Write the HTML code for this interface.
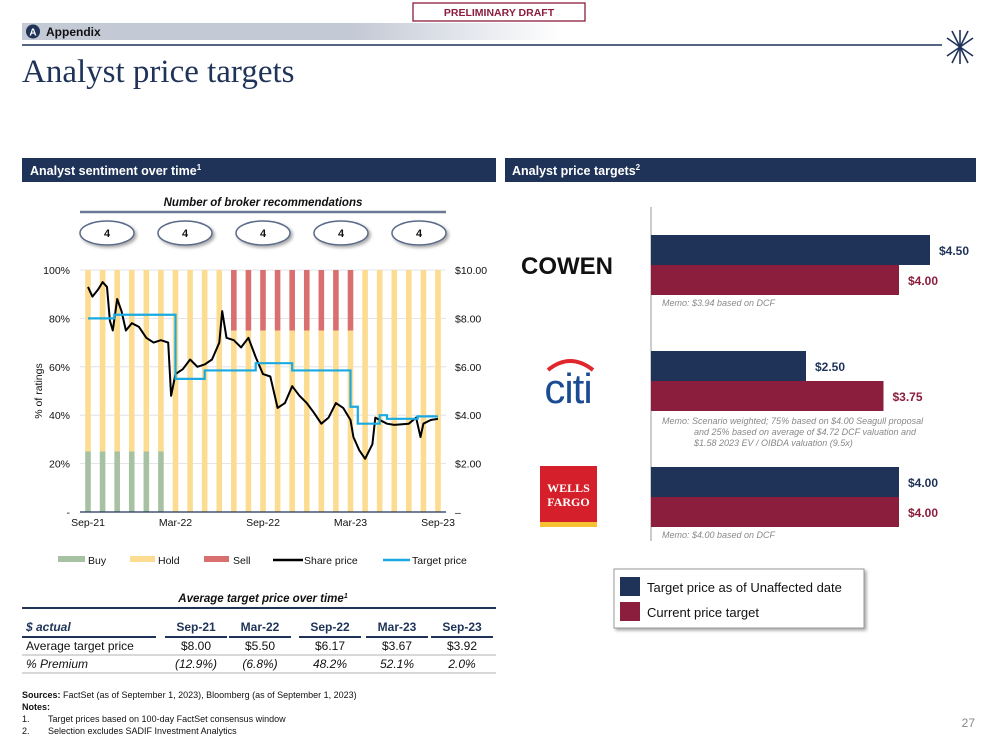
<!DOCTYPE html>
<html><head><meta charset="utf-8"><style>
body{margin:0;background:#fff}
svg{display:block;font-family:"Liberation Sans",Arial,sans-serif}
</style></head><body>
<svg id="s" width="999" height="750" viewBox="0 0 999 750">
<defs>
<linearGradient id="band" x1="0" x2="1"><stop offset="0" stop-color="#c3c9d5"/><stop offset="0.55" stop-color="#c3c9d5"/><stop offset="0.9" stop-color="#fff"/></linearGradient>
<filter id="sh" x="-20%" y="-30%" width="150%" height="180%"><feDropShadow dx="2" dy="2" stdDeviation="1.5" flood-color="#000" flood-opacity="0.35"/></filter>
</defs>
<rect x="413" y="3" width="172" height="18" fill="#fff" stroke="#8b1d3d" stroke-width="1.3"/>
<text x="499" y="16" text-anchor="middle" font-size="10.5" font-weight="bold" fill="#8b1d3d">PRELIMINARY DRAFT</text>
<rect x="22" y="23" width="600" height="17" fill="url(#band)"/>
<circle cx="33" cy="31.5" r="7" fill="#1f3358"/>
<text x="33" y="35.5" text-anchor="middle" font-size="10" font-weight="bold" fill="#fff">A</text>
<text x="46" y="36" font-size="12" font-weight="bold" fill="#111">Appendix</text>
<line x1="22" y1="45" x2="942" y2="45" stroke="#1f3358" stroke-width="1.5"/>
<g stroke="#1f3358" stroke-width="1.6">
<line x1="960" y1="30" x2="960" y2="64"/><line x1="952" y1="31" x2="968" y2="63"/><line x1="968" y1="31" x2="952" y2="63"/><line x1="947" y1="38" x2="973" y2="56"/><line x1="973" y1="38" x2="947" y2="56"/>
</g>
<text x="22" y="82" font-family="Liberation Serif,serif" font-size="33" fill="#1f3358">Analyst price targets</text>
<rect x="22" y="158" width="474" height="24" fill="#1f3358"/>
<text x="30" y="175" font-size="12.5" font-weight="bold" fill="#fff">Analyst sentiment over time<tspan font-size="8" dy="-5">1</tspan></text>
<rect x="505" y="158" width="471" height="24" fill="#1f3358"/>
<text x="512" y="175" font-size="12.5" font-weight="bold" fill="#fff">Analyst price targets<tspan font-size="8" dy="-5">2</tspan></text>
<text x="263" y="206" text-anchor="middle" font-size="11.5" font-weight="bold" font-style="italic" fill="#111">Number of broker recommendations</text>
<line x1="80" y1="212" x2="446" y2="212" stroke="#6a7a94" stroke-width="2.5"/>
<g id="ovals"></g>
<g id="chart"></g>
<g id="legend" font-size="10.5" fill="#111">
<rect x="58" y="556" width="27" height="6" fill="#a7c1a3"/><text x="88" y="564">Buy</text>
<rect x="130" y="556" width="25" height="6" fill="#fcdc91"/><text x="158" y="564">Hold</text>
<rect x="204" y="556" width="25" height="6" fill="#d9706f"/><text x="233" y="564">Sell</text>
<line x1="273" y1="560" x2="303" y2="560" stroke="#000" stroke-width="2.5"/><text x="304" y="564">Share price</text>
<line x1="383" y1="560" x2="410" y2="560" stroke="#1aa9e0" stroke-width="2.5"/><text x="412" y="564">Target price</text>
</g>
<g font-size="12" fill="#111">
<text x="263" y="602" text-anchor="middle" font-size="11.5" font-weight="bold" font-style="italic">Average target price over time<tspan font-size="7" dy="-4">1</tspan></text>
<line x1="22" y1="608" x2="496" y2="608" stroke="#1f3358" stroke-width="2"/>
<g id="tbl"></g>
</g>
<g font-size="9" fill="#111">
<text x="22" y="698"><tspan font-weight="bold">Sources:</tspan> FactSet (as of September 1, 2023), Bloomberg (as of September 1, 2023)</text>
<text x="22" y="710" font-weight="bold">Notes:</text>
<text x="22" y="722">1.</text><text x="48" y="722">Target prices based on 100-day FactSet consensus window</text>
<text x="22" y="734">2.</text><text x="48" y="734">Selection excludes SADIF Investment Analytics</text>
</g>
<text x="975" y="727" text-anchor="end" font-size="12" fill="#888">27</text>
<line x1="651" y1="207" x2="651" y2="541" stroke="#aaa" stroke-width="1.2"/>
<text x="567" y="274" text-anchor="middle" font-size="24" font-weight="bold" fill="#111">COWEN</text>
<g>
<path d="M548 370 Q570 352 593 370" fill="none" stroke="#e0262c" stroke-width="4"/>
<text x="568" y="403" text-anchor="middle" font-size="42" fill="#1b4b93" letter-spacing="-1">citi</text>
</g>
<g>
<rect x="540" y="466" width="57" height="58" fill="#d5202b"/><rect x="540" y="522" width="57" height="5" fill="#f6c233"/>
<text x="568.5" y="492" text-anchor="middle" font-family="Liberation Serif,serif" font-weight="bold" font-size="12" fill="#fff">WELLS</text>
<text x="568.5" y="506" text-anchor="middle" font-family="Liberation Serif,serif" font-weight="bold" font-size="12" fill="#fff">FARGO</text>
</g>
<g id="bars2"></g>
<g font-size="9" font-style="italic" fill="#888">
<text x="662" y="306">Memo: $3.94 based on DCF</text>
<text x="662" y="424">Memo: Scenario weighted; 75% based on $4.00 Seagull proposal</text>
<text x="694" y="435">and 25% based on average of $4.72 DCF valuation and</text>
<text x="694" y="446">$1.58 2023 EV / OIBDA valuation (9.5x)</text>
<text x="662" y="538">Memo: $4.00 based on DCF</text>
</g>
<g>
<rect x="614" y="569" width="250" height="59" fill="#fff" stroke="#999" filter="url(#sh)"/>
<rect x="620" y="577" width="20" height="19" fill="#1f3358"/><text x="647" y="592" font-size="13" fill="#111">Target price as of Unaffected date</text>
<rect x="620" y="602" width="20" height="19" fill="#8b1d3d"/><text x="647" y="617" font-size="13" fill="#111">Current price target</text>
</g>
</svg>
<script>
const NS="http://www.w3.org/2000/svg";
function mk(p,t,a){const e=document.createElementNS(NS,t);for(const k in a)e.setAttribute(k,a[k]);p.appendChild(e);return e;}
// ---- data ----
const brokerCounts=[4,4,4,4,4];
const buyPct=[25,25,25,25,25,25,0,0,0,0,0,0,0,0,0,0,0,0,0,0,0,0,0,0,0];
const sellPct=[0,0,0,0,0,0,0,0,0,0,25,25,25,25,25,25,25,25,25,0,0,0,0,0,0];
const priceMonths=[0,0.3,0.7,1,1.3,1.5,1.7,2,2.3,2.6,3,3.5,4,4.5,5,5.5,5.7,6,6.5,7,7.5,8,8.5,9,9.2,9.5,10,10.5,11,11.5,12,12.5,13,13.5,14,14.5,15,15.5,16,16.5,17,17.5,18,18.2,18.6,19,19.5,19.7,20,20.5,21,22,22.5,22.8,23,23.5,24];
const priceVals=[9.3,8.9,9.2,9.5,9.3,7.9,7.5,8.8,8.3,7.5,7.8,7.65,7.2,7.0,7.1,7.0,4.8,5.7,5.9,6.3,6.0,6.1,6.3,7.0,8.3,7.2,7.1,6.8,7.2,6.4,5.7,5.6,4.3,4.5,5.2,4.8,4.5,4.1,3.65,3.9,4.5,4.3,3.8,3.1,2.55,2.2,2.8,3.9,3.8,3.65,3.6,3.65,3.9,3.1,3.65,3.8,3.85];
const targetMonths=[0,1.8,6,8,11.5,14,18,18.5,20,20.5,22.6,24];
const targetVals=[8.0,8.15,5.5,5.85,6.15,5.85,4.35,3.65,4.0,3.85,3.95];
const leftTicks=["-","20%","40%","60%","80%","100%"];
const rightTicks=["–","$2.00","$4.00","$6.00","$8.00","$10.00"];
const xLabels=["Sep-21","Mar-22","Sep-22","Mar-23","Sep-23"];
const xLabelMonths=[0,6,12,18,24];
const tableCols=["Sep-21","Mar-22","Sep-22","Mar-23","Sep-23"];
const avgTarget=["$8.00","$5.50","$6.17","$3.67","$3.92"];
const premium=["(12.9%)","(6.8%)","48.2%","52.1%","2.0%"];
const brokers=["Cowen","Citi","Wells Fargo"];
const unaffected=[4.50,2.50,4.00];
const current=[4.00,3.75,4.00];
// ---- axes ----
const X=m=>88+m*(350/24), Yp=p=>512-p*2.42, Yd=v=>512-v*24.2;
const s=document.getElementById('s');
const ov=document.getElementById('ovals');
brokerCounts.forEach((c,i)=>{const cx=107+i*78;
 const e=mk(ov,'ellipse',{cx:cx,cy:233,rx:27,ry:12,fill:'#fff',stroke:'#5a6a88','stroke-width':1.5,filter:'url(#sh)'});
 
 
 const t=mk(ov,'text',{x:cx,y:237,'text-anchor':'middle','font-size':11,'font-weight':'bold',fill:'#111'});t.textContent=c;});
const g=document.getElementById('chart');
for(let i=0;i<=5;i++){const y=Yp(i*20);
 mk(g,'line',{x1:80,x2:446,y1:y,y2:y,stroke:'#d8dde6','stroke-width':0.8});
 const a=mk(g,'text',{x:70,y:y+4,'text-anchor':'end','font-size':10.5,fill:'#111'});a.textContent=leftTicks[i];
 const b=mk(g,'text',{x:455,y:y+4,'font-size':10.5,fill:'#111'});b.textContent=rightTicks[i];}
buyPct.forEach((b,i)=>{const x=X(i)-2.8,w=5.6,sp=sellPct[i],h=100-b-sp;
 if(b){const r=mk(g,'rect',{x:x,y:Yp(b),width:w,height:Yp(0)-Yp(b),fill:'#a7c1a3'});
  
  }
 const r2=mk(g,'rect',{x:x,y:Yp(b+h),width:w,height:Yp(b)-Yp(b+h),fill:'#fcdc91'});
 
 
 if(sp){const r3=mk(g,'rect',{x:x,y:Yp(100),width:w,height:Yp(b+h)-Yp(100),fill:'#d9706f'});
  
  }});
mk(g,'line',{x1:80,x2:446,y1:512,y2:512,stroke:'#1f3358','stroke-width':1.2});
const pp=priceMonths.map((m,i)=>X(m).toFixed(1)+','+Yd(priceVals[i]).toFixed(1)).join(' ');
const pl=mk(g,'polyline',{points:pp,fill:'none',stroke:'#000','stroke-width':2,'stroke-linejoin':'round'});


let tp=[];targetVals.forEach((v,i)=>{tp.push(X(targetMonths[i])+','+Yd(v));tp.push(X(targetMonths[i+1])+','+Yd(v));});
const tl=mk(g,'polyline',{points:tp.join(' '),fill:'none',stroke:'#1aa9e0','stroke-width':2.2});


xLabels.forEach((l,i)=>{const t=mk(g,'text',{x:X(xLabelMonths[i]),y:526,'text-anchor':'middle','font-size':10.5,fill:'#111'});t.textContent=l;});
const yt=mk(g,'text',{x:0,y:0,transform:'translate(42,391) rotate(-90)','text-anchor':'middle','font-size':10.5,fill:'#111'});yt.textContent='% of ratings';


// table
const tb=document.getElementById('tbl');const cx=[196,260,330,397,462];
let t=mk(tb,'text',{x:26,y:631,'font-weight':'bold','font-style':'italic',fill:'#1f3358'});t.textContent='$ actual';
mk(tb,'line',{x1:22,x2:156,y1:637,y2:637,stroke:'#1f3358','stroke-width':2});
tableCols.forEach((c,i)=>{let e=mk(tb,'text',{x:cx[i],y:631,'text-anchor':'middle','font-weight':'bold',fill:'#1f3358'});e.textContent=c;
 mk(tb,'line',{x1:cx[i]-31,x2:cx[i]+31,y1:637,y2:637,stroke:'#1f3358','stroke-width':2});
 e=mk(tb,'text',{x:cx[i],y:650,'text-anchor':'middle'});e.textContent=avgTarget[i];
 e=mk(tb,'text',{x:cx[i],y:668,'text-anchor':'middle','font-style':'italic'});e.textContent=premium[i];});
t=mk(tb,'text',{x:26,y:650});t.textContent='Average target price';
t=mk(tb,'text',{x:26,y:668,'font-style':'italic'});t.textContent='% Premium';
mk(tb,'line',{x1:22,x2:496,y1:655,y2:655,stroke:'#ccc','stroke-width':1.5});
mk(tb,'line',{x1:22,x2:496,y1:673,y2:673,stroke:'#ccc','stroke-width':1.5});
// right bars
const b2=document.getElementById('bars2');const XB=v=>651+v*62;const tops=[235,351,467];
brokers.forEach((n,i)=>{
 let r=mk(b2,'rect',{x:651,y:tops[i],width:XB(unaffected[i])-651,height:30,fill:'#1f3358'});
 
 
 r=mk(b2,'rect',{x:651,y:tops[i]+30,width:XB(current[i])-651,height:30,fill:'#8b1d3d'});
 
 
 let e=mk(b2,'text',{x:XB(unaffected[i])+9,y:tops[i]+20,'font-size':12,'font-weight':'bold',fill:'#1f3358'});e.textContent='$'+unaffected[i].toFixed(2);
 e=mk(b2,'text',{x:XB(current[i])+9,y:tops[i]+50,'font-size':12,'font-weight':'bold',fill:'#8b1d3d'});e.textContent='$'+current[i].toFixed(2);});
</script>
</body></html>
